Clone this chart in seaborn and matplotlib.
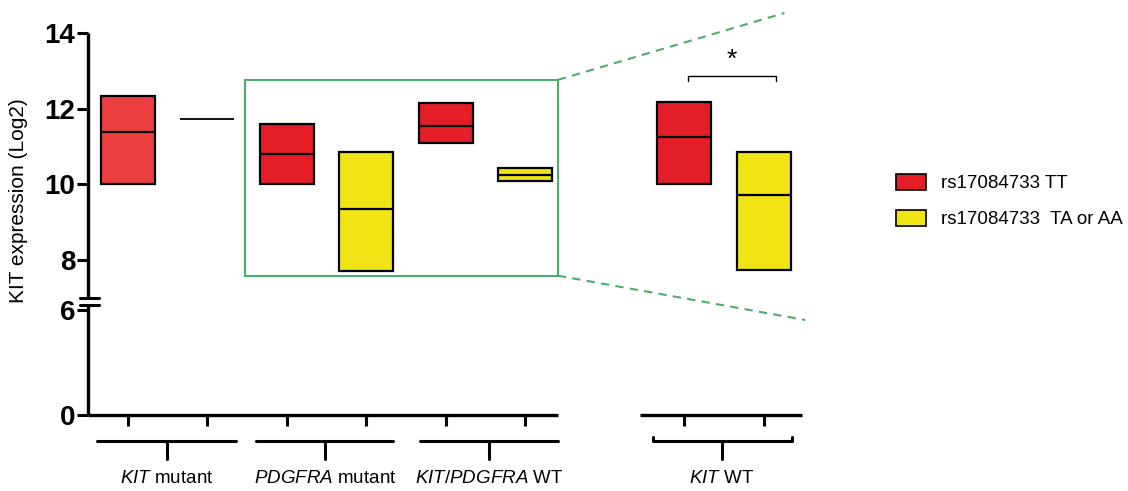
import numpy as np
import matplotlib
matplotlib.use("Agg")
import matplotlib.pyplot as plt
from matplotlib.patches import Patch, Rectangle
import matplotlib.transforms as mtransforms
import seaborn as sns

# values (KIT expression, Log2): min / max / median
positions = [0, 1, 2, 3, 4, 5, 7, 8]
genotype = ["TT", "TA/AA", "TT", "TA/AA", "TT", "TA/AA", "TT", "TA/AA"]
low = [10.0, 11.72, 10.0, 7.71, 11.09, 10.09, 10.0, 7.73]
high = [12.34, 11.72, 11.6, 10.86, 12.16, 10.42, 12.17, 10.85]
median = [11.37, 11.72, 10.81, 9.34, 11.53, 10.24, 11.24, 9.71]

groups = ["$\\mathit{KIT}$ mutant", "$\\mathit{PDGFRA}$ mutant",
          "$\\mathit{KIT/PDGFRA}$ WT", "$\\mathit{KIT}$ WT"]
yticks = [0, 6, 8, 10, 12, 14]
legend_labels = ["rs17084733 TT", "rs17084733  TA or AA"]

red = "#E41E26"
red_light = "#EC3F3F"
yellow = "#F1E414"
green = "#4DAE6C"

sns.set_style("ticks")
plt.rcParams["font.family"] = ["Liberation Sans", "DejaVu Sans"]
plt.rcParams["mathtext.fontset"] = "custom"
plt.rcParams["mathtext.rm"] = "Liberation Sans"
plt.rcParams["mathtext.it"] = "Liberation Sans:italic"
for k in ["text.color", "axes.labelcolor", "xtick.color", "ytick.color"]:
    plt.rcParams[k] = "black"

# broken y axis as a piecewise linear scale
kv = [-100, 0, 6.3, 7.0, 14, 100]
kd = [-1750, 0, 110.25, 117.4, 382, 382 + 86 * 37.8]
fwd = lambda v: np.interp(v, kv, kd)
inv = lambda d: np.interp(d, kd, kv)

fig = plt.figure(figsize=(11.28, 4.91), dpi=100)
ax = fig.add_axes([88 / 1128, 76 / 491, 714 / 1128, 382 / 491])
ax.set_yscale("function", functions=(fwd, inv))
ax.set_xlim(-0.5, 8.48)
ax.set_ylim(0, 14)

w = 0.68
for i, p in enumerate(positions):
    if high[i] - low[i] < 0.01:
        ax.hlines(median[i], p - w / 2, p + w / 2, color="black", lw=1.3)
        continue
    c = yellow if genotype[i] == "TA/AA" else (red_light if i == 0 else red)
    ax.bar(p, high[i] - low[i], bottom=low[i], width=w, color=c,
           edgecolor="black", linewidth=1.6)
    ax.hlines(median[i], p - w / 2, p + w / 2, color="black", lw=1.6)

# zoom box + dashed lines
ax.add_patch(Rectangle((1.48, 7.58), 5.41 - 1.48, 12.76 - 7.58, fill=False,
                       edgecolor=green, lw=1.5))
ax.plot([5.41, 8.26], [12.76, 14.53], ls=(0, (4, 3)), color=green, lw=1.5, clip_on=False)
ax.plot([5.41, 8.52], [7.58, 5.43], ls=(0, (4, 3)), color=green, lw=1.5, clip_on=False)

# significance bracket
ax.plot([7.05, 7.05, 8.15, 8.15], [12.74, 12.86, 12.86, 12.74], color="black", lw=1.0)
ax.text(7.6, 13.3, "*", ha="center", va="center", fontsize=19)

# axes lines
for s in ax.spines.values():
    s.set_visible(False)
yx = mtransforms.blended_transform_factory(ax.transAxes, ax.transData)
ax.plot([0, 0], [0, 6.3], color="black", lw=2.4, transform=yx, clip_on=False,
        solid_capstyle="butt")
ax.plot([0, 0], [7.0, 14], color="black", lw=2.4, transform=yx, clip_on=False,
        solid_capstyle="butt")
for yb in [6.3, 7.0]:
    ax.plot([-8 / 714, 11 / 714], [yb, yb], color="black", lw=2.2, transform=yx,
            clip_on=False)
ax.plot([-0.5, 5.41], [0, 0], color="black", lw=2.4, clip_on=False, solid_capstyle="butt")
ax.plot([6.44, 8.48], [0, 0], color="black", lw=2.4, clip_on=False, solid_capstyle="butt")

ax.set_yticks(yticks)
ax.set_yticklabels([str(t) for t in yticks], fontsize=20, fontweight="bold")
ax.yaxis.set_minor_locator(matplotlib.ticker.NullLocator())
ax.tick_params(axis="y", length=8, width=2.2, pad=1)
ax.set_xticks(positions)
ax.set_xticklabels([])
ax.tick_params(axis="x", length=8, width=2.2, direction="out")

# group brackets
xb = mtransforms.blended_transform_factory(ax.transData, ax.transAxes)
spans = [(-0.39, 1.36, 0.49), (1.61, 3.33, 2.48), (3.67, 5.41, 4.54), (6.6, 8.35, 7.47)]
for j, (a, b, m) in enumerate(spans):
    if j == 3:
        ax.plot([a, a, b, b], [-0.057, -0.068, -0.068, -0.057], color="black", lw=2.2,
                transform=xb, clip_on=False)
    else:
        ax.plot([a, b], [-0.068, -0.068], color="black", lw=2.2, transform=xb, clip_on=False)
    ax.plot([m, m], [-0.068, -0.115], color="black", lw=2.2, transform=xb, clip_on=False)
    ax.text(m, -0.165, groups[j], transform=xb, ha="center", va="center", fontsize=13.5)

fig.text(19 / 1128, 1 - 201 / 491, "KIT expression (Log2)", rotation=90,
         ha="center", va="center", fontsize=15)

handles = [Patch(facecolor=red, edgecolor="black", lw=1.2),
           Patch(facecolor=yellow, edgecolor="black", lw=1.2)]
fig.legend(handles, legend_labels, loc="upper left",
           bbox_to_anchor=(896 / 1128, 1 - 174 / 491), frameon=False, fontsize=13.5,
           handlelength=1.6, handleheight=0.9, handletextpad=0.8, labelspacing=0.95,
           borderpad=0, borderaxespad=0)

fig.savefig("out.png", dpi=100)
